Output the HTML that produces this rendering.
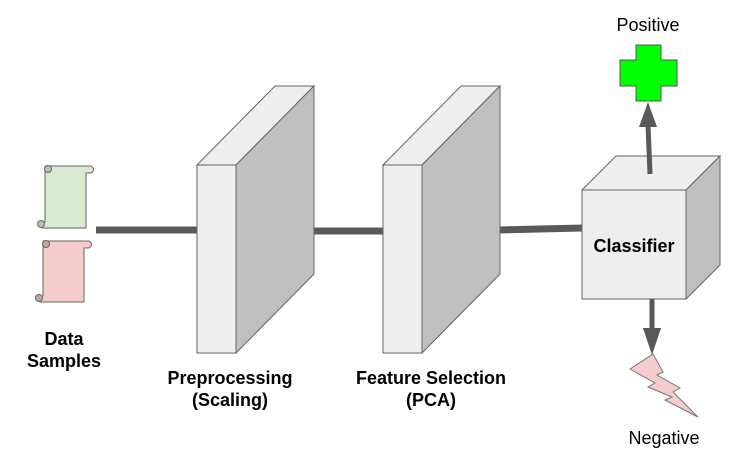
<!DOCTYPE html>
<html><head><meta charset="utf-8"><style>
body{margin:0;background:#fff;}
svg{display:block;font-family:"Liberation Sans",Arial,sans-serif;}
</style></head><body>
<svg width="753" height="462" viewBox="0 0 753 462">
<g stroke="#595959" stroke-width="7" fill="none">
<line x1="96" y1="230" x2="197" y2="230"/>
<line x1="314" y1="231" x2="383" y2="231"/>
<line x1="500" y1="230" x2="582" y2="228"/>
</g>
<g stroke="#666" stroke-width="1">
<path d="M45 166 H90 a3.5 3.5 0 0 1 0 7 H86 V228 H43 a3 3 0 0 1 0 -6 H45 Z" fill="#d9ead3"/>
<circle cx="48" cy="169" r="3.5" fill="#b6c4ae"/>
<circle cx="41" cy="224" r="3.5" fill="#b6c4ae"/>
<path d="M43 241 H88 a3.5 3.5 0 0 1 0 7 H84 V302 H41 a3 3 0 0 1 0 -6 H43 Z" fill="#f4cccc"/>
<circle cx="46" cy="244" r="3.5" fill="#c9a3a3"/>
<circle cx="39" cy="298" r="3.5" fill="#c9a3a3"/>
</g>
<g stroke="#666" stroke-width="1">
<polygon points="197,165 275,86 314,86 236,165" fill="#eeeeee"/>
<polygon points="236,165 314,86 314,274 236,353" fill="#bfbfbf"/>
<rect x="197" y="165" width="39" height="188" fill="#eeeeee"/>
<polygon points="383,165 461,86 500,86 422,165" fill="#eeeeee"/>
<polygon points="422,165 500,86 500,274 422,353" fill="#bfbfbf"/>
<rect x="383" y="165" width="39" height="188" fill="#eeeeee"/>
<polygon points="582,190 616,156 720,156 686,190" fill="#eeeeee"/>
<polygon points="686,190 720,156 720,265 686,299" fill="#bfbfbf"/>
<rect x="582" y="190" width="104" height="109" fill="#eeeeee"/>
</g>
<g stroke="#595959" stroke-width="5">
<line x1="650" y1="174" x2="648" y2="125"/>
<line x1="652" y1="299" x2="652" y2="330"/>
</g>
<polygon points="648,102 639,127 657,127" fill="#595959"/>
<polygon points="652,355 643,328 661,328" fill="#595959"/>
<polygon points="636,45 661,45 661,60 677,60 677,86 661,86 661,101 636,101 636,86 620,86 620,60 636,60" fill="#00ff00" stroke="#555" stroke-width="1"/>
<polygon points="630,369 653,354 663,372 657,375 680,388 673,392 698,417 665,400 672,397 648,387 655,383" fill="#f4cccc" stroke="#777" stroke-width="1"/>
<g font-size="18" fill="#000" text-anchor="middle">
<text x="648" y="31">Positive</text>
<text x="664" y="444">Negative</text>
<g font-weight="bold">
<text x="634" y="252">Classifier</text>
<text x="64" y="345">Data</text>
<text x="64" y="367">Samples</text>
<text x="230" y="384">Preprocessing</text>
<text x="230" y="406">(Scaling)</text>
<text x="431" y="384">Feature Selection</text>
<text x="431" y="406">(PCA)</text>
</g></g>
</svg>
</body></html>
